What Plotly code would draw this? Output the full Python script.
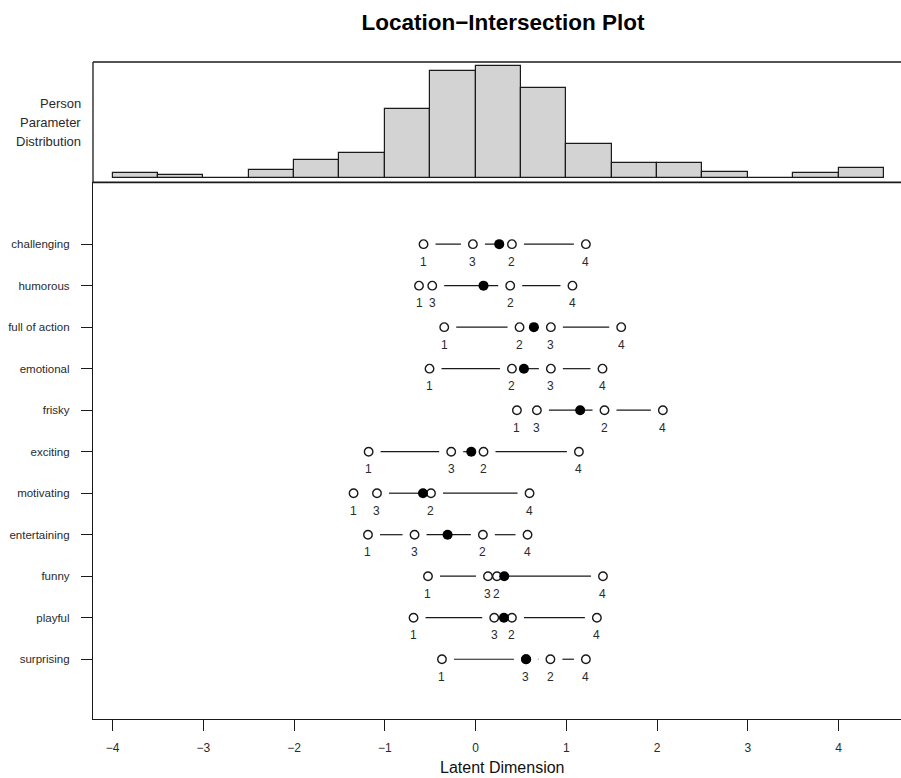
import plotly.graph_objects as go

# ---------------- data ----------------
items = ["challenging", "humorous", "full of action", "emotional", "frisky",
         "exciting", "motivating", "entertaining", "funny", "playful", "surprising"]

thr1 = [-0.573, -0.623, -0.345, -0.507, 0.456, -1.178, -1.344, -1.185, -0.524, -0.683, -0.370]
thr2 = [0.401, 0.382, 0.485, 0.401, 1.421, 0.088, -0.491, 0.081, 0.236, 0.401, 0.825]
thr3 = [-0.029, -0.477, 0.830, 0.830, 0.676, -0.268, -1.086, -0.672, 0.137, 0.206, 0.555]
thr4 = [1.216, 1.068, 1.605, 1.399, 2.064, 1.139, 0.595, 0.573, 1.404, 1.337, 1.216]
locations = [0.261, 0.088, 0.643, 0.533, 1.153, -0.047, -0.579, -0.308, 0.316, 0.313, 0.558]

hist_left_edges = [-4.0, -3.5, -3.0, -2.5, -2.0, -1.5, -1.0, -0.5, 0.0, 0.5,
                   1.0, 1.5, 2.0, 2.5, 3.0, 3.5, 4.0]
hist_counts = [2.0, 1.2, 0.0, 3.5, 8.0, 11.3, 31.4, 49.0, 51.0, 41.0,
               15.5, 6.7, 6.7, 2.6, 0.0, 2.0, 4.4]
bin_width = 0.5

x_ticks = [-4, -3, -2, -1, 0, 1, 2, 3, 4]
hist_label_lines = ["Person", "Parameter", "Distribution"]

# ---------------- layout geometry ----------------
W, H = 901, 778
ML, MR, MT, MB = 93, 0, 62, 59
XR = [-4.215, 4.688]
YR = [-0.44, 12.49]
HIST_YR = [-2.04, 53.04]
plot_h = H - MT - MB
split = (H - MB - 182.3) / plot_h

FONT = "Liberation Sans, Arial, Helvetica, sans-serif"
INK = "#1a1a1a"

plot_w = W - ML - MR
px_per_unit = plot_w / (XR[1] - XR[0])
gap = 12.0 / px_per_unit  # gap around open circles (type="b" style)

n = len(items)
rows = [n - i for i in range(n)]  # challenging on top

fig = go.Figure()

# histogram
fig.add_trace(go.Bar(
    x=[e + bin_width / 2 for e in hist_left_edges], y=hist_counts, width=bin_width,
    marker=dict(color="#d3d3d3", line=dict(color=INK, width=1.2)),
    xaxis="x", yaxis="y2", showlegend=False, hoverinfo="skip"))

# connecting segments between sorted thresholds
seg_x, seg_y = [], []
thr_all = list(zip(thr1, thr2, thr3, thr4))
for r, ths in zip(rows, thr_all):
    s = sorted(ths)
    for a, b in zip(s[:-1], s[1:]):
        if b - a > 2 * gap:
            seg_x += [a + gap, b - gap, None]
            seg_y += [r, r, None]
fig.add_trace(go.Scatter(x=seg_x, y=seg_y, mode="lines",
                         line=dict(color=INK, width=1.2),
                         showlegend=False, hoverinfo="skip"))

# open circles for thresholds
cx, cy = [], []
for r, ths in zip(rows, thr_all):
    for t in ths:
        cx.append(t)
        cy.append(r)
fig.add_trace(go.Scatter(x=cx, y=cy, mode="markers",
                         marker=dict(symbol="circle-open", size=8.5, color=INK,
                                     line=dict(width=1.4, color=INK)),
                         showlegend=False))

# filled item locations
fig.add_trace(go.Scatter(x=locations, y=rows, mode="markers",
                         marker=dict(symbol="circle", size=10, color="#000000",
                                     line=dict(width=0)),
                         showlegend=False))

# threshold number labels
annotations = []
for r, ths in zip(rows, thr_all):
    for k, t in enumerate(ths, start=1):
        annotations.append(dict(x=t, y=r, xref="x", yref="y", text=str(k),
                                showarrow=False, yshift=-17.7, yanchor="middle",
                                font=dict(family=FONT, size=12, color="#2a2a2a")))

# side label of histogram (three lines, 19 px apart)
mid = (1 + split) / 2
for i, line in enumerate(hist_label_lines):
    annotations.append(dict(x=0, y=mid, xref="paper", yref="paper",
                            xshift=-10, yshift=(1 - i) * 19,
                            xanchor="right", yanchor="middle", align="right",
                            text=line, showarrow=False,
                            font=dict(family=FONT, size=13, color="#2a2a2a")))

# x-axis title
annotations.append(dict(x=(502.7 - ML) / plot_w, y=0, xref="paper", yref="paper",
                        yshift=-48, yanchor="middle", xanchor="center",
                        text="Latent Dimension", showarrow=False,
                        font=dict(family=FONT, size=16, color="#111")))

shapes = [
    dict(type="line", xref="paper", yref="paper", x0=0, x1=1, y0=1, y1=1,
         line=dict(color=INK, width=1.3)),
    dict(type="line", xref="paper", yref="paper", x0=0, x1=0, y0=split, y1=1,
         line=dict(color=INK, width=1.3)),
    dict(type="line", xref="paper", yref="paper", x0=0, x1=1, y0=split, y1=split,
         line=dict(color=INK, width=1.8)),
]

fig.update_layout(
    width=W, height=H,
    margin=dict(l=ML, r=MR, t=MT, b=MB, autoexpand=False),
    paper_bgcolor="white", plot_bgcolor="white",
    bargap=0,
    title=dict(text="<b>Location\u2212Intersection Plot</b>", x=503 / W,
               xanchor="center", y=1 - 22.5 / H, yanchor="middle",
               font=dict(family=FONT, size=22.5, color="#000")),
    xaxis=dict(domain=[0, 1], range=XR, anchor="y", showgrid=False, zeroline=False,
               showline=True, linecolor=INK, linewidth=1.3,
               ticks="outside", ticklen=11, tickwidth=1.2, tickcolor=INK,
               tickvals=x_ticks, ticklabelstandoff=6,
               tickfont=dict(family=FONT, size=12, color="#2a2a2a")),
    yaxis=dict(domain=[0, split], range=YR, showgrid=False, zeroline=False,
               showline=True, linecolor=INK, linewidth=1.3,
               ticks="outside", ticklen=11, tickwidth=1.2, tickcolor=INK,
               tickvals=rows, ticktext=items, ticklabelstandoff=9,
               tickfont=dict(family=FONT, size=11.5, color="#2a2a2a")),
    yaxis2=dict(domain=[split, 1], range=HIST_YR, anchor="x", visible=False,
                showgrid=False, zeroline=False),
    annotations=annotations,
    shapes=shapes,
    showlegend=False,
)

fig.write_html("out.html",
               config={"displayModeBar": False},
               post_script="document.body.style.margin='0';"
                           "document.body.style.overflow='hidden';")
